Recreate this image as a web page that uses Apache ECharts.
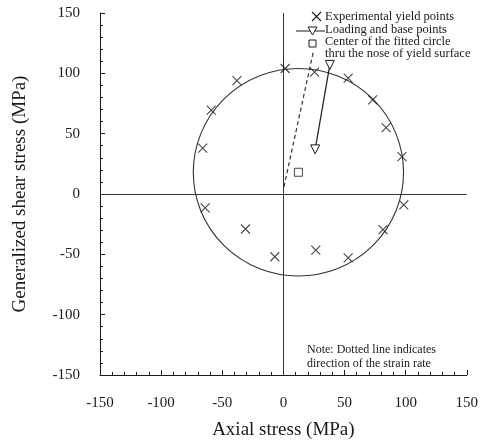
<!DOCTYPE html>
<html>
<head>
<meta charset="utf-8">
<script src="https://cdn.jsdelivr.net/npm/echarts@6/dist/echarts.min.js"></script>
<style>
html,body{margin:0;padding:0;background:#fff;}
#chart{width:481px;height:445px;}
</style>
</head>
<body>
<div id="chart"></div>
<script>
// Experimental yield points (axial stress, generalized shear stress) in MPa
var expX = [1.5, 25.5, 53, 73, 84, 97, 98.5, 81.5, 53, 26.5, -7, -31, -64, -66, -59, -38];
var expY = [104, 101, 96, 78, 55, 31, -9, -29.5, -53, -46.5, -52, -29, -11.5, 38, 69.5, 94];
// Loading and base points (solid line with triangles)
var loadX = [38, 26];
var loadY = [107, 37];
// Strain-rate direction (dotted line)
var strainX = [0.5, 24.5];
var strainY = [6, 118];
// Center of fitted circle and its radius
var centerX = [12.3];
var centerY = [18];
var circleR = [86];
// Axis ticks
var xTicks = [-150, -100, -50, 0, 50, 100, 150];
var yTicks = [-150, -100, -50, 0, 50, 100, 150];

var serif = '"Liberation Serif", "DejaVu Serif", serif';
var ink = '#1a1a1a';

function zip(a, b) { return a.map(function (v, i) { return [v, b[i]]; }); }

var chart = echarts.init(document.getElementById('chart'));

var xMarker = 'path://M0,0L10,10M10,0L0,10';

var option = {
  animation: false,
  backgroundColor: '#fff',
  grid: { left: 100, right: 11, top: 13, bottom: 70 },
  xAxis: {
    type: 'value',
    min: xTicks[0], max: xTicks[xTicks.length - 1], interval: 50,
    name: 'Axial stress (MPa)', nameLocation: 'middle', nameGap: 46,
    nameTextStyle: { fontFamily: serif, fontSize: 19, color: ink },
    axisLine: { onZero: false, lineStyle: { color: ink, width: 1 } },
    axisTick: { inside: true, length: 5, lineStyle: { color: ink } },
    minorTick: { show: true, splitNumber: 5, length: 3, lineStyle: { color: ink } },
    axisLabel: { margin: 21, fontFamily: serif, fontSize: 15, color: ink },
    splitLine: { show: false }
  },
  yAxis: {
    type: 'value',
    min: yTicks[0], max: yTicks[yTicks.length - 1], interval: 50,
    name: 'Generalized shear stress (MPa)', nameLocation: 'middle', nameGap: 70,
    nameTextStyle: { fontFamily: serif, fontSize: 19, color: ink },
    axisLine: { onZero: false, lineStyle: { color: ink, width: 1 } },
    axisTick: { inside: true, length: 5, lineStyle: { color: ink } },
    minorTick: { show: true, splitNumber: 5, length: 3, lineStyle: { color: ink } },
    axisLabel: { margin: 20, fontFamily: serif, fontSize: 15, color: ink },
    splitLine: { show: false }
  },
  series: [
    {
      type: 'custom',
      name: 'circle',
      data: [[centerX[0], centerY[0], circleR[0]]],
      renderItem: function (params, api) {
        var c = api.coord([api.value(0), api.value(1)]);
        var r = api.value(2);
        var rx = api.size([r, 0])[0];
        var ry = api.size([0, r])[1];
        return {
          type: 'path',
          shape: {
            pathData: 'M' + (c[0] - rx) + ' ' + c[1] +
              ' A' + rx + ' ' + ry + ' 0 1 0 ' + (c[0] + rx) + ' ' + c[1] +
              ' A' + rx + ' ' + ry + ' 0 1 0 ' + (c[0] - rx) + ' ' + c[1] + ' Z'
          },
          style: { fill: 'none', stroke: '#333', lineWidth: 1.1 }
        };
      },
      z: 2
    },
    {
      type: 'line',
      name: 'zero',
      data: [],
      markLine: {
        silent: true, symbol: 'none', label: { show: false },
        lineStyle: { color: '#333', width: 1, type: 'solid' },
        data: [{ xAxis: 0 }, { yAxis: 0 }]
      }
    },
    {
      type: 'line',
      name: 'strain',
      data: zip(strainX, strainY),
      showSymbol: false, symbol: 'none',
      lineStyle: { color: '#333', width: 1.2, type: [4, 3] },
      z: 3
    },
    {
      type: 'line',
      name: 'loading',
      data: zip(loadX, loadY),
      symbol: 'triangle', symbolSize: 9, symbolRotate: 180, showSymbol: true,
      itemStyle: { color: '#fff', borderColor: ink, borderWidth: 1 },
      lineStyle: { color: ink, width: 1.2 },
      z: 4
    },
    {
      type: 'scatter',
      name: 'center',
      data: zip(centerX, centerY),
      symbol: 'rect', symbolSize: 8,
      itemStyle: { color: '#fff', borderColor: ink, borderWidth: 1 },
      z: 4
    },
    {
      type: 'scatter',
      name: 'exp',
      data: zip(expX, expY),
      symbol: xMarker, symbolSize: 9,
      itemStyle: { color: 'none', borderColor: ink, borderWidth: 1.1 },
      z: 5
    }
  ],
  graphic: [
    // legend row 1: X marker
    { type: 'line', shape: { x1: 312, y1: 12, x2: 321, y2: 21 }, style: { stroke: ink, lineWidth: 1.1 } },
    { type: 'line', shape: { x1: 321, y1: 12, x2: 312, y2: 21 }, style: { stroke: ink, lineWidth: 1.1 } },
    { type: 'text', left: 325, top: 10, style: { text: 'Experimental yield points', font: '12.5px ' + serif, fill: ink } },
    // row 2: line + triangle
    { type: 'line', shape: { x1: 296, y1: 31, x2: 325, y2: 31 }, style: { stroke: ink, lineWidth: 1 } },
    { type: 'polygon', shape: { points: [[308, 27], [317, 27], [312.5, 35]] }, style: { fill: '#fff', stroke: ink, lineWidth: 1 } },
    { type: 'text', left: 325, top: 23, style: { text: 'Loading and base points', font: '12.5px ' + serif, fill: ink } },
    // row 3: square
    { type: 'rect', shape: { x: 309, y: 40, width: 7, height: 7 }, style: { fill: '#fff', stroke: ink, lineWidth: 1 } },
    { type: 'text', left: 325, top: 35, style: { text: 'Center of the fitted circle', font: '12.5px ' + serif, fill: ink } },
    { type: 'text', left: 325, top: 47, style: { text: 'thru the nose of yield surface', font: '12.5px ' + serif, fill: ink } },
    // note
    { type: 'text', left: 307, top: 344, style: { text: 'Note: Dotted line indicates', font: '12px ' + serif, fill: ink } },
    { type: 'text', left: 307, top: 358, style: { text: 'direction of the strain rate', font: '12px ' + serif, fill: ink } }
  ]
};

chart.setOption(option);
</script>
</body>
</html>
